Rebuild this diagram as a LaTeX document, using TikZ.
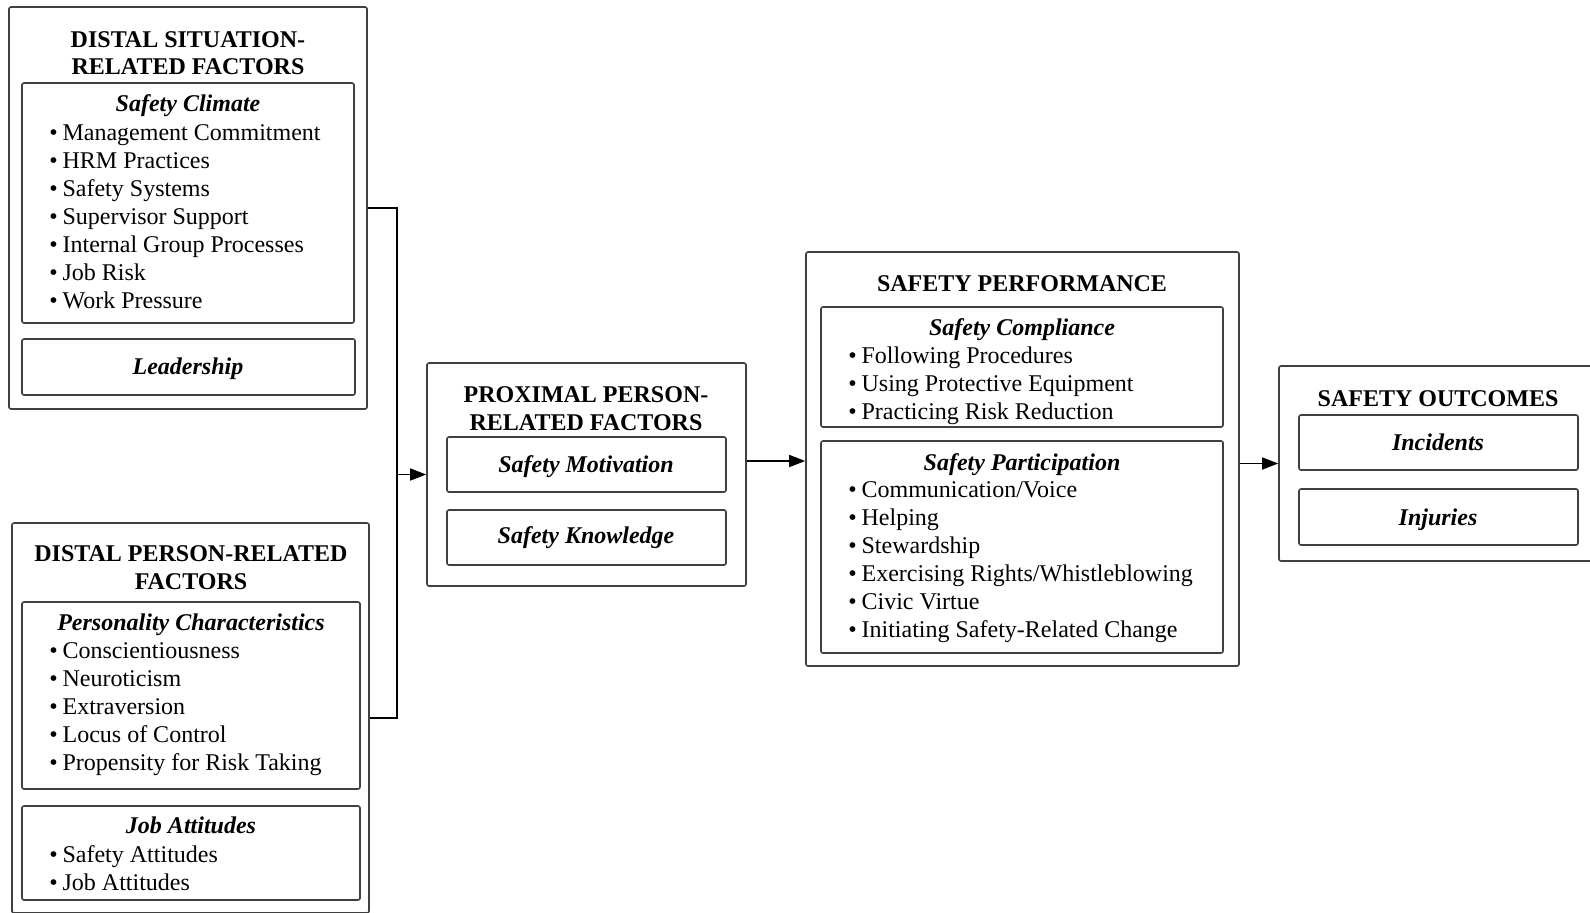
\documentclass[tikz,border=0pt]{standalone}
\usepackage{fontspec}
\setmainfont{Liberation Serif}
\usetikzlibrary{arrows.meta,fit}
\begin{document}
\begin{tikzpicture}[x=0.5pt,y=-0.5pt,
  frame/.style={draw=black!75, line width=0.8pt, rounded corners=1pt, inner sep=0pt},
  txt/.style={anchor=base, inner sep=0pt, font=\fontsize{12}{14}\selectfont},
  head/.style={txt, font=\fontsize{12}{14}\selectfont\bfseries},
  sub/.style={txt, font=\fontsize{12}{14}\selectfont\bfseries\itshape},
  item/.style={txt, anchor=base west},
  link/.style={draw=black, line width=0.8pt},
  arr/.style={link, -{Triangle[length=8pt,width=6pt]}}]
\fill[white] (0,0) rectangle (1590,912);
\useasboundingbox (0,0) rectangle (1590,912);

% ---- boxes ----
\node[frame, fit={(9,7) (367,409)}] (dsr) {};
\node[frame, fit={(22,83) (354,323)}] (sclim) {};
\node[frame, fit={(22,339) (355,395)}] (lead) {};
\node[frame, fit={(12,523) (369,913)}] (dpr) {};
\node[frame, fit={(22,602) (360,789)}] (pers) {};
\node[frame, fit={(22,806) (360,900)}] (jobatt) {};
\node[frame, fit={(427,363) (746,586)}] (prox) {};
\node[frame, fit={(447,437) (726,492)}] (smot) {};
\node[frame, fit={(447,510) (726,565)}] (sknow) {};
\node[frame, fit={(806,252) (1239,666)}] (perf) {};
\node[frame, fit={(821,307) (1223,427)}] (comp) {};
\node[frame, fit={(821,441) (1223,653)}] (part) {};
\node[frame, fit={(1279,366) (1600,561)}] (outc) {};
\node[frame, fit={(1299,415) (1578,470)}] (inc) {};
\node[frame, fit={(1299,489) (1578,545)}] (inj) {};

% ---- distal situation-related factors ----
\node[head] (dsrt1) at (188,47) {DISTAL SITUATION-};
\node[head] (dsrt2) at (188,74) {RELATED FACTORS};
\node[sub] (sclimt) at (188,111) {Safety Climate};
\foreach \t [count=\i] in {Management Commitment, HRM Practices, Safety Systems,
  Supervisor Support, Internal Group Processes, Job Risk, Work Pressure}
  \node[item] (sc\i) at (49,{112+28*\i}) {\textbullet\hspace{2.4pt}\t};
\node[sub] (leadt) at (188,374) {Leadership};

% ---- distal person-related factors ----
\node[head] (dprt1) at (191,561) {DISTAL PERSON-RELATED};
\node[head] (dprt2) at (191,589) {FACTORS};
\node[sub] (perst) at (191,630) {Personality Characteristics};
\foreach \t [count=\i] in {Conscientiousness, Neuroticism, Extraversion,
  Locus of Control, Propensity for Risk Taking}
  \node[item] (pc\i) at (49,{630+28*\i}) {\textbullet\hspace{2.4pt}\t};
\node[sub] (jobattt) at (191,833) {Job Attitudes};
\foreach \t [count=\i] in {Safety Attitudes, Job Attitudes}
  \node[item] (ja\i) at (49,{834+28*\i}) {\textbullet\hspace{2.4pt}\t};

% ---- proximal person-related factors ----
\node[head] (proxt1) at (586,402) {PROXIMAL PERSON-};
\node[head] (proxt2) at (586,430) {RELATED FACTORS};
\node[sub] (smott) at (586,472) {Safety Motivation};
\node[sub] (sknowt) at (586,543) {Safety Knowledge};

% ---- safety performance ----
\node[head] (perft) at (1022,291) {SAFETY PERFORMANCE};
\node[sub] (compt) at (1022,335) {Safety Compliance};
\foreach \t [count=\i] in {Following Procedures, Using Protective Equipment,
  Practicing Risk Reduction}
  \node[item] (cp\i) at (848,{335+28*\i}) {\textbullet\hspace{2.4pt}\t};
\node[sub] (partt) at (1022,470) {Safety Participation};
\foreach \t [count=\i] in {Communication/Voice, Helping, Stewardship,
  Exercising Rights/Whistleblowing, Civic Virtue, Initiating Safety-Related Change}
  \node[item] (pp\i) at (848,{469+28*\i}) {\textbullet\hspace{2.4pt}\t};

% ---- safety outcomes ----
\node[head] (outct) at (1438,406) {SAFETY OUTCOMES};
\node[sub] (inct) at (1438,450) {Incidents};
\node[sub] (injt) at (1438,525) {Injuries};

% ---- connectors ----
\path (prox.west) ++(-29,0) coordinate (jn);
\draw[link] (dsr.east) -| (jn) |- (dpr.east);
\draw[arr] (jn) -- (prox.west);
\draw[arr] ([yshift=-1pt]perf.west -| prox.east) -- ([yshift=-1pt]perf.west);
\draw[arr] (perf.east |- outc.west) -- (outc.west);
\end{tikzpicture}
\end{document}
